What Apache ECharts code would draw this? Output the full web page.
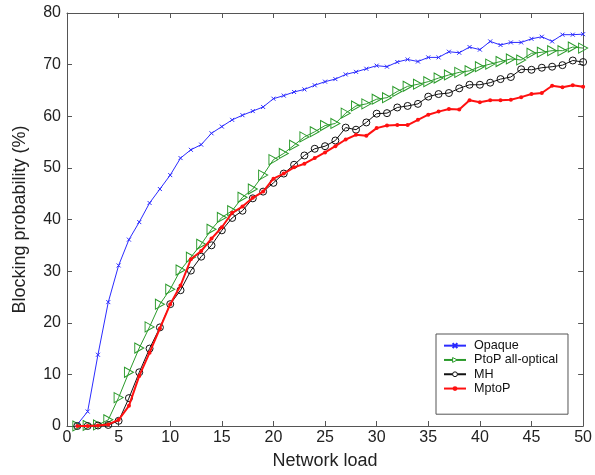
<!DOCTYPE html>
<html>
<head>
<meta charset="utf-8">
<script src="https://cdn.jsdelivr.net/npm/echarts@6/dist/echarts.min.js"></script>
<style>html,body{margin:0;padding:0;background:#fff;}#c{width:595px;height:475px;}</style>
</head>
<body>
<div id="c"></div>
<script>
const loads = [1,2,3,4,5,6,7,8,9,10,11,12,13,14,15,16,17,18,19,20,21,22,23,24,25,26,27,28,29,30,31,32,33,34,35,36,37,38,39,40,41,42,43,44,45,46,47,48,49,50];
const opaque = [0.3,2.8,13.8,24.0,31.1,36.1,39.5,43.2,45.9,48.6,51.9,53.5,54.5,56.7,58.0,59.3,60.2,61.0,61.8,63.4,64.0,64.7,65.2,66.0,66.7,67.2,68.1,68.6,69.2,69.8,69.6,70.5,71.0,70.6,71.4,71.4,72.5,72.3,73.4,72.9,74.5,73.8,74.3,74.3,75.0,75.4,74.5,75.8,75.8,75.9];
const ptop = [0.0,0.1,0.2,1.2,5.5,10.4,15.1,19.2,23.6,26.5,30.2,32.7,35.2,38.1,40.4,41.7,44.3,45.9,48.6,51.6,52.8,54.4,56.0,57.0,58.2,58.6,60.6,62.0,62.4,63.3,63.6,64.8,65.8,66.2,66.7,67.4,68.0,68.5,68.8,69.6,70.1,70.6,71.1,70.9,72.2,72.4,72.7,72.7,73.4,73.2];
const mh = [0.0,0.0,0.1,0.2,1.0,5.4,10.4,15.0,19.1,23.6,26.3,30.1,32.8,35.0,37.9,40.3,41.7,44.1,45.4,47.1,48.9,50.6,52.4,53.7,54.2,55.3,57.8,57.4,58.8,60.5,60.6,61.7,62.0,62.4,63.8,64.3,64.5,65.4,66.1,66.1,66.5,67.2,67.6,69.1,69.0,69.4,69.6,69.9,70.8,70.5];
const mptop = [0.0,0.0,0.1,0.3,1.2,3.9,9.7,14.2,18.9,23.6,27.2,32.3,33.9,36.3,38.5,41.3,42.5,44.2,45.4,47.9,48.9,50.1,50.8,51.9,53.0,54.2,55.5,56.4,56.2,57.7,58.2,58.3,58.3,59.3,60.3,60.9,61.4,61.3,63.1,62.7,63.1,63.1,63.2,63.7,64.3,64.5,65.9,65.6,66.0,65.7];
const seriesNames = ['Opaque','PtoP all-optical','MH','MptoP'];

const pairs = v => v.map((y,i)=>[loads[i], y]);
const FONT = 'Liberation Sans, Arial, Helvetica, sans-serif';
const AX = '#555';
const C_BLUE = '#2b2bff', C_GREEN = '#2a9a2a', C_BLACK = '#111', C_RED = '#ff1010';

const chart = echarts.init(document.getElementById('c'), null, {renderer:'canvas'});
const baseX = {type:'value', min:0, max:50, interval:5, splitLine:{show:false},
  axisLine:{show:true, onZero:false, lineStyle:{color:AX, width:1}},
  axisTick:{show:true, inside:true, length:5, lineStyle:{color:AX}}};
const baseY = {type:'value', min:0, max:80, interval:10, splitLine:{show:false},
  axisLine:{show:true, onZero:false, lineStyle:{color:AX, width:1}},
  axisTick:{show:true, inside:true, length:5, lineStyle:{color:AX}}};

chart.setOption({
  animation:false,
  backgroundColor:'#fff',
  textStyle:{fontFamily:FONT},
  grid:{left:67, right:9, top:13, bottom:48, containLabel:false},
  xAxis:[
    Object.assign({}, baseX, {position:'bottom',
      axisLabel:{fontSize:16, color:'#222', margin:4, fontFamily:FONT},
      name:'Network load', nameLocation:'middle', nameGap:26,
      nameTextStyle:{fontSize:18, color:'#222', fontFamily:FONT}}),
    Object.assign({}, baseX, {position:'top', axisLabel:{show:false}})
  ],
  yAxis:[
    Object.assign({}, baseY, {position:'left',
      axisLabel:{fontSize:16, color:'#222', margin:6, fontFamily:FONT},
      name:'Blocking probability (%)', nameLocation:'middle', nameGap:38,
      nameTextStyle:{fontSize:18, color:'#222', fontFamily:FONT}}),
    Object.assign({}, baseY, {position:'right', axisLabel:{show:false}})
  ],
  legend:{
    show:true, orient:'vertical', left:436, top:334,
    backgroundColor:'#fff', borderColor:AX, borderWidth:1,
    padding:[4.5,10,18.5,7], itemGap:0, itemWidth:22, itemHeight:6,
    textStyle:{fontSize:12.6, lineHeight:14.3, color:'#111', fontFamily:FONT, padding:[0,0,0,3]},
    data:[
      {name:seriesNames[0]},
      {name:seriesNames[1], itemStyle:{color:'#fff', borderColor:C_GREEN, borderWidth:1}},
      {name:seriesNames[2], itemStyle:{color:'#fff', borderColor:C_BLACK, borderWidth:1}},
      {name:seriesNames[3]}
    ]
  },
  series:[
    {name:seriesNames[0], type:'line', data:pairs(opaque),
      symbol:'path://M0,0L10,10M10,0L0,10', symbolSize:4, showSymbol:true,
      itemStyle:{color:C_BLUE, borderColor:C_BLUE, borderWidth:1},
      lineStyle:{color:C_BLUE, width:1}, z:2},
    {name:seriesNames[1], type:'line', data:pairs(ptop),
      symbol:'path://M0,0L10,5L0,10Z', symbolSize:[9,10], showSymbol:true,
      itemStyle:{color:'rgba(0,0,0,0)', borderColor:C_GREEN, borderWidth:1},
      lineStyle:{color:C_GREEN, width:1}, z:3},
    {name:seriesNames[2], type:'line', data:pairs(mh),
      symbol:'circle', symbolSize:7, showSymbol:true,
      itemStyle:{color:'rgba(0,0,0,0)', borderColor:C_BLACK, borderWidth:1},
      lineStyle:{color:C_BLACK, width:1}, z:4},
    {name:seriesNames[3], type:'line', data:pairs(mptop),
      symbol:'circle', symbolSize:4, showSymbol:true,
      itemStyle:{color:C_RED, borderColor:C_RED, borderWidth:0},
      lineStyle:{color:C_RED, width:2}, z:5}
  ]
});
</script>
</body>
</html>
